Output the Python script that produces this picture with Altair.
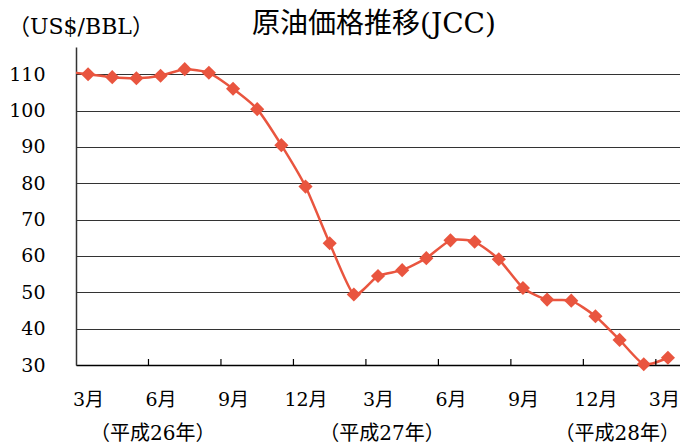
import altair as alt
import pandas as pd

# ---- data ----
month_index = list(range(-1, 25))  # -1 = Feb 2014 (lead-in, clipped), 0 = Mar 2014 ... 24 = Mar 2016
prices = [110.8, 110.0, 109.2, 108.9, 109.6, 111.4, 110.4, 106.0, 100.4, 90.5,
          79.1, 63.5, 49.4, 54.5, 56.1, 59.4, 64.3, 63.9, 59.1, 51.2,
          48.0, 47.7, 43.4, 36.9, 30.2, 32.0]
y_ticks = [30, 40, 50, 60, 70, 80, 90, 100, 110]
x_label_index = [0, 3, 6, 9, 12, 15, 18, 21, 24]
tick_boundaries = [i + 0.5 for i in range(2, 24, 3)]
year_labels = ["（平成26年）", "（平成27年）", "（平成28年）"]
year_index = [0, 12, 24]
chart_title = ["原油価格推移(JCC)"]
unit_label = ["（US$/BBL）"]

RED = "#E9553F"
FONT = "DejaVu Serif, Noto Sans CJK JP"

df = pd.DataFrame({"idx": month_index, "price": prices})
ticks_df = pd.DataFrame({"idx": tick_boundaries})
years_df = pd.DataFrame({"idx": year_index, "label": year_labels})

xscale = alt.Scale(domain=[-0.5, 24.5], nice=False, zero=False)
yscale = alt.Scale(domain=[30, 117.5], nice=False, zero=False)

x_axis = alt.Axis(values=x_label_index,
                  labelExpr="(((datum.value + 2) % 12) + 1) + '月'",
                  labelOffset={"condition": {"test": "datum.value == 24", "value": -4},
                               "value": 0},
                  tickSize=0, grid=False, labelPadding=34, labelFontSize=19,
                  labelFont=FONT, labelColor="black", labelAngle=0,
                  labelFlush=False, labelOverlap=False, labelBaseline="middle",
                  domainColor="black", domainWidth=1.3, title=None)
y_axis = alt.Axis(values=y_ticks, tickSize=0, labelPadding=31, labelFontSize=19,
                  labelFont=FONT, labelColor="black",
                  grid=True, gridColor="#333333", gridWidth=1.2,
                  domainColor="#333333", domainWidth=1.5, title=None)

X = alt.X("idx:Q", scale=xscale, axis=x_axis)
Y = alt.Y("price:Q", scale=yscale, axis=y_axis)

line = alt.Chart(df).mark_line(clip=True, interpolate="cardinal", tension=0.4,
                               color=RED, strokeWidth=2.5).encode(x=X, y=Y)

points = alt.Chart(df).transform_filter("datum.idx >= 0").mark_point(
    shape="diamond", filled=True, size=200, color=RED, opacity=1).encode(x=X, y=Y)

tick_rules = alt.Chart(ticks_df).mark_rule(color="black", strokeWidth=1.2).encode(
    x=X, y=alt.value(318), y2=alt.value(312),
)

def year_layer(i, align, dx):
    return alt.Chart(years_df.iloc[[i]]).mark_text(
        align=align, baseline="middle", fontSize=20, font=FONT, color="black", dx=dx
    ).encode(x=X, y=alt.value(387), text="label:N")

years = year_layer(0, "left", 2) + year_layer(1, "center", 4) + year_layer(2, "right", 12)

title_text = alt.Chart(pd.DataFrame({"t": chart_title})).mark_text(
    align="center", baseline="middle", fontSize=28, font=FONT, color="black"
).encode(x=alt.value(298), y=alt.value(-22), text="t:N")

unit_text = alt.Chart(pd.DataFrame({"t": unit_label})).mark_text(
    align="left", baseline="middle", fontSize=22, font=FONT, color="black"
).encode(x=alt.value(-68), y=alt.value(-20), text="t:N")

chart = alt.layer(line, tick_rules, points, years, title_text, unit_text).properties(
    width=604, height=318,
    autosize=alt.AutoSizeParams(type="none"),
    padding={"left": 68, "top": 39, "right": 0, "bottom": 80},
).configure_view(stroke=None)

chart.save("out.html", embed_options={"renderer": "svg", "actions": False})
